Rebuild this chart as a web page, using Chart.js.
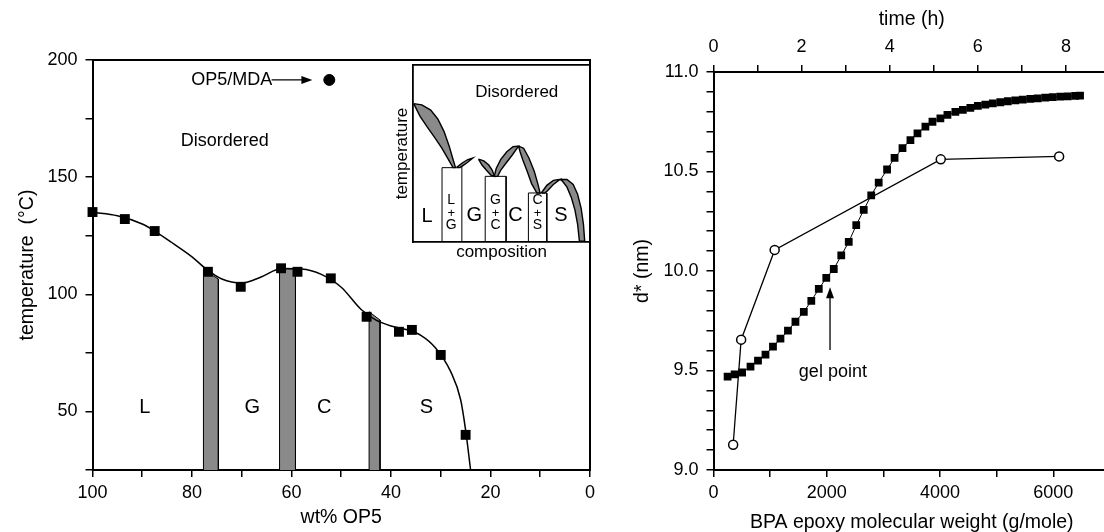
<!DOCTYPE html>
<html>
<head>
<meta charset="utf-8">
<script src="https://cdn.jsdelivr.net/npm/chart.js@4.4.1/dist/chart.umd.min.js"></script>
<style>
  html, body { margin: 0; padding: 0; background: #fff; overflow: hidden; }
  #wrap { position: relative; width: 1104px; height: 532px; overflow: hidden; }
  canvas { position: absolute; }
</style>
</head>
<body>
<div id="wrap">
  <canvas id="phase" width="600" height="532" style="left:0;top:0"></canvas>
  <canvas id="inset" width="205" height="200" style="left:390px;top:62px"></canvas>
  <canvas id="dspace" width="520" height="532" style="left:600px;top:0"></canvas>
</div>
<script>
// ---- left panel: order-disorder temperature vs OP5 content ----
const wtOP5 = [100, 93.5, 87.5, 76.8, 70.2, 62.1, 58.8, 52.1, 44.9, 38.4, 35.8, 30, 25];
const tODT  = [135.1, 132.1, 127, 109.6, 103.2, 111.1, 109.6, 106.8, 90.4, 84, 84.8, 74.1, 40];
// guide line through the points
const guideWt = [100, 95, 90, 87.5, 84, 80, 77, 74, 70, 66, 62, 58, 54, 50, 46, 43, 40, 37, 34, 31, 28, 26, 25, 24];
const guideT  = [135, 133.5, 130, 127, 122, 116, 110.5, 106.5, 104.8, 107.5, 111, 110.8, 108.5, 103, 93.5, 89, 86.5, 85, 82.5, 77, 67, 55, 42, 25];
// two-phase bands (left edge, right edge) and their top temperatures
const bandWt  = [[77.7, 74.7], [62.4, 59.2], [44.4, 42.2]];
const bandTop = [[110.5, 106.5], [111, 110.8], [92.5, 89]];
const mdaWt = [52.4];
const mdaT  = [191.5];

// ---- inset schematic (composition 0-100, temperature 0-100) ----
const lensA = [[0.4,78.2],[5,77.5],[10,74.5],[14,69.5],[17.5,62.5],[20.5,54],[22.5,47],[24,42],[22.6,42],[19.8,47],[16.3,53],[12.3,59],[8,65],[4,71],[0.4,78.2]];
const lensB = [[24.5,42],[28,44.8],[31,46.6],[33.8,47.5],[30.5,44.8],[28,43],[26.5,42],[24.5,42]];
const lensC = [[37,46.8],[40,45.8],[42.8,43.5],[44.8,40.5],[46,37.1],[44,37.8],[41.5,40.5],[39,43.5],[37,46.8]];
const lensD = [[45.9,37.1],[47,41.5],[49.5,46.5],[53,51],[56.5,53.8],[59.6,54.2],[56,49],[52.5,44.5],[49.5,40.5],[47.8,37.1],[45.9,37.1]];
const lensE = [[59.6,54.2],[62.5,53],[65.5,47.5],[68.5,40],[70.5,33],[71.8,27.7],[70,27.7],[67,33],[64.5,40],[62,46.5],[60.5,51],[59.6,54.2]];
const lensF = [[72.5,27.7],[75.6,32],[79.3,34.8],[83.1,35.4],[79.3,32.5],[76,29],[74.5,27.7],[72.5,27.7]];
const lensG = [[83.1,35.4],[87,35.3],[90.5,32.5],[93,27],[95,19],[96.3,10],[97,0.5],[94,0.5],[93,10],[91.5,18],[89.5,25],[87,31],[84.5,34.3],[83.1,35.4]];
const columns = [
  [[16.4,0],[16.4,42],[24,42]],
  [[27.6,0],[27.6,44]],
  [[40.8,0],[40.8,37.1],[52.6,37.1],[52.6,0]],
  [[65.2,0],[65.2,27.7],[75.6,27.7],[75.6,0]]
];

// ---- right panel ----
const bpaMW   = [347, 488, 1080, 4012, 6102];
const dBPA    = [9.127, 9.655, 10.106, 10.561, 10.576];
const timeH   = [0.32,0.48,0.65,0.84,1.01,1.18,1.35,1.52,1.69,1.86,2.05,2.22,2.39,2.56,2.73,2.90,3.07,3.24,3.41,3.58,3.75,3.94,4.11,4.29,4.47,4.63,4.81,4.97,5.15,5.31,5.49,5.66,5.83,6.00,6.17,6.34,6.51,6.68,6.85,7.02,7.19,7.36,7.53,7.70,7.87,8.04,8.21,8.32];
const dCure   = [9.469,9.481,9.49,9.52,9.55,9.58,9.62,9.66,9.70,9.745,9.795,9.85,9.91,9.965,10.01,10.078,10.146,10.23,10.307,10.38,10.444,10.51,10.568,10.617,10.658,10.692,10.725,10.75,10.767,10.784,10.80,10.81,10.82,10.83,10.836,10.842,10.848,10.853,10.857,10.861,10.865,10.868,10.871,10.874,10.876,10.878,10.880,10.881];

const FONT = '"Liberation Sans", Arial, Helvetica, sans-serif';
Chart.defaults.font.family = FONT;
Chart.defaults.color = '#000';
Chart.defaults.animation = false;
Chart.defaults.events = [];
Chart.defaults.plugins.legend.display = false;
Chart.defaults.plugins.tooltip.enabled = false;

const GREY = '#8a8a8a';
const TICK = 18;
const xy = (xs, ys) => xs.map((x, i) => ({ x, y: ys[i] }));
const pts = arr => arr.map(p => ({ x: p[0], y: p[1] }));

const tickGrid = { display: true, drawOnChartArea: false, drawTicks: true, tickLength: 7, color: '#000', lineWidth: 1.5 };
const frame = { display: true, color: '#000', width: 2 };

function edge(position, min, max, width) {
  return {
    type: 'linear', position, min, max,
    ticks: { display: false }, grid: { display: false },
    border: { display: true, color: '#000', width: width || 2 },
    afterFit: s => { if (s.isHorizontal()) s.height = 0; else s.width = 0; }
  };
}

// text labels and arrows placed in data units
const notes = {
  id: 'notes',
  afterDatasetsDraw(chart, args, opts) {
    const ctx = chart.ctx;
    const ys = chart.scales.y;
    ctx.save();
    ctx.fillStyle = '#000';
    ctx.strokeStyle = '#000';
    (opts.texts || []).forEach(t => {
      const xs = chart.scales[t.axis || 'x'];
      ctx.font = t.size + 'px ' + FONT;
      ctx.textAlign = 'center';
      ctx.textBaseline = 'middle';
      ctx.fillText(t.text, xs.getPixelForValue(t.x), ys.getPixelForValue(t.y));
    });
    (opts.arrows || []).forEach(a => {
      const xs = chart.scales[a.axis || 'x'];
      const x0 = xs.getPixelForValue(a.from[0]), y0 = ys.getPixelForValue(a.from[1]);
      const x1 = xs.getPixelForValue(a.to[0]), y1 = ys.getPixelForValue(a.to[1]);
      const c = Math.cos(Math.atan2(y1 - y0, x1 - x0)), s = Math.sin(Math.atan2(y1 - y0, x1 - x0));
      ctx.lineWidth = 1.3;
      ctx.beginPath();
      ctx.moveTo(x0, y0);
      ctx.lineTo(x1 - 6 * c, y1 - 6 * s);
      ctx.stroke();
      ctx.beginPath();
      ctx.moveTo(x1, y1);
      ctx.lineTo(x1 - 11 * c + 4 * s, y1 - 11 * s - 4 * c);
      ctx.lineTo(x1 - 11 * c - 4 * s, y1 - 11 * s + 4 * c);
      ctx.closePath();
      ctx.fill();
    });
    ctx.restore();
  }
};

// ---------------- left: phase diagram ----------------
const bands = bandWt.map((w, i) => ({
  data: [{ x: w[0], y: 25 }, { x: w[0], y: bandTop[i][0] }, { x: w[1], y: bandTop[i][1] }, { x: w[1], y: 25 }],
  showLine: true, fill: 'shape', backgroundColor: GREY, borderColor: '#000', borderWidth: 1,
  pointRadius: 0, tension: 0
}));

new Chart(document.getElementById('phase'), {
  type: 'scatter',
  data: {
    datasets: [
      { data: xy(mdaWt, mdaT), pointStyle: 'circle', pointRadius: 5.5, backgroundColor: '#000', borderColor: '#000', clip: false },
      { data: xy(wtOP5, tODT), pointStyle: 'rect', pointRadius: 7, backgroundColor: '#000', borderColor: '#000', borderWidth: 0, clip: false },
      { data: xy(guideWt, guideT), showLine: true, borderColor: '#000', borderWidth: 1.5, pointRadius: 0,
        tension: 0.4, cubicInterpolationMode: 'monotone' },
      ...bands
    ]
  },
  options: {
    responsive: false,
    layout: { padding: { top: 60, right: 9, left: 0, bottom: 0 } },
    scales: {
      x: {
        type: 'linear', min: 0, max: 100, reverse: true,
        ticks: { stepSize: 10, autoSkip: false, maxRotation: 0, padding: 5, font: { size: TICK },
          callback: v => (v % 20 === 0 ? v : '') },
        grid: tickGrid, border: frame,
        title: { display: true, text: 'wt% OP5', font: { size: 19.5 }, padding: { top: 0, bottom: 3 } },
        afterFit: s => { s.height = 62; }
      },
      y: {
        type: 'linear', min: 25, max: 200,
        ticks: { stepSize: 25, autoSkip: false, padding: 8, font: { size: TICK },
          callback: v => (v % 50 === 0 ? v : '') },
        grid: tickGrid, border: frame,
        title: { display: true, text: 'temperature  (°C)', font: { size: 19.5 }, padding: { top: 16, bottom: 0 } },
        afterFit: s => { s.width = 92.5; }
      },
      x2: Object.assign(edge('top', 0, 100), { reverse: true }),
      y2: edge('right', 25, 200)
    },
    plugins: {
      notes: {
        texts: [
          { text: 'Disordered', x: 73.4, y: 165.4, size: 18 },
          { text: 'OP5/MDA', x: 72, y: 191.5, size: 18 },
          { text: 'L', x: 89.5, y: 51.5, size: 20 },
          { text: 'G', x: 67.9, y: 51.5, size: 20 },
          { text: 'C', x: 53.4, y: 51.5, size: 20 },
          { text: 'S', x: 32.9, y: 51.5, size: 20 }
        ],
        arrows: [{ from: [64, 191.5], to: [55.8, 191.5] }]
      }
    }
  },
  plugins: [notes]
});

// ---------------- inset schematic ----------------
const lensSet = [lensA, lensB, lensC, lensD, lensE, lensF, lensG].map(l => ({
  data: pts(l), showLine: true, fill: 'shape', backgroundColor: GREY, borderColor: '#000',
  borderWidth: 1.4, pointRadius: 0, tension: 0
}));
const colSet = columns.map(c => ({
  data: pts(c), showLine: true, fill: false, borderColor: '#000', borderWidth: 1, pointRadius: 0, tension: 0
}));

new Chart(document.getElementById('inset'), {
  type: 'scatter',
  data: { datasets: [...lensSet, ...colSet] },
  options: {
    responsive: false,
    layout: { padding: { top: 3, right: 5, left: 0, bottom: 0 } },
    scales: {
      x: {
        type: 'linear', min: 0, max: 100,
        ticks: { display: false }, grid: { display: false },
        border: { display: true, color: '#000', width: 1.8 },
        title: { display: true, text: 'composition', font: { size: 17 }, padding: { top: 0, bottom: -1 } },
        afterFit: s => { s.height = 20; }
      },
      y: {
        type: 'linear', min: 0, max: 100,
        ticks: { display: false }, grid: { display: false },
        border: { display: true, color: '#000', width: 1.8 },
        title: { display: true, text: 'temperature', font: { size: 17 }, padding: { top: 2, bottom: 0 } },
        afterFit: s => { s.width = 23; }
      },
      x2: edge('top', 0, 100, 1.8),
      y2: edge('right', 0, 100, 1.8)
    },
    plugins: {
      notes: {
        texts: [
          { text: 'Disordered', x: 58.6, y: 84.4, size: 17 },
          { text: 'L', x: 7.9, y: 14.5, size: 20 },
          { text: 'L', x: 21.6, y: 23.5, size: 14 },
          { text: '+', x: 21.6, y: 16.3, size: 13 },
          { text: 'G', x: 21.6, y: 9.3, size: 14 },
          { text: 'G', x: 34.6, y: 15, size: 20 },
          { text: 'G', x: 46.6, y: 23.5, size: 14 },
          { text: '+', x: 46.6, y: 16.3, size: 13 },
          { text: 'C', x: 46.6, y: 9.3, size: 14 },
          { text: 'C', x: 57.9, y: 15, size: 20 },
          { text: 'C', x: 70.3, y: 23.5, size: 14 },
          { text: '+', x: 70.3, y: 16.3, size: 13 },
          { text: 'S', x: 70.3, y: 9.3, size: 14 },
          { text: 'S', x: 83.5, y: 15, size: 20 }
        ]
      }
    }
  },
  plugins: [notes]
});

// ---------------- right: d-spacing ----------------
new Chart(document.getElementById('dspace'), {
  type: 'scatter',
  data: {
    datasets: [
      { data: xy(bpaMW, dBPA), xAxisID: 'x', showLine: true, borderColor: '#000', borderWidth: 1.3,
        pointStyle: 'circle', pointRadius: 4.5, backgroundColor: '#fff', pointBorderWidth: 1.5, tension: 0 },
      { data: xy(timeH, dCure), xAxisID: 'x2', showLine: true, borderColor: '#000', borderWidth: 1,
        pointStyle: 'rect', pointRadius: 5.5, backgroundColor: '#000', pointBorderWidth: 0, tension: 0 }
    ]
  },
  options: {
    responsive: false,
    layout: { padding: { top: 0, right: 10, left: 0, bottom: 0 } },
    scales: {
      x: {
        type: 'linear', position: 'bottom', min: 0, max: 7000,
        ticks: { stepSize: 1000, autoSkip: false, maxRotation: 0, padding: 5, font: { size: TICK },
          callback: v => (v % 2000 === 0 ? v : '') },
        grid: tickGrid, border: frame,
        title: { display: true, text: 'BPA epoxy molecular weight (g/mole)', font: { size: 19.5 }, padding: { top: 0, bottom: -2 } },
        afterFit: s => { s.height = 62; }
      },
      x2: {
        type: 'linear', position: 'top', min: 0, max: 9,
        ticks: { stepSize: 1, autoSkip: false, maxRotation: 0, padding: 7, font: { size: TICK },
          callback: v => (v % 2 === 0 ? v : '') },
        grid: tickGrid, border: frame,
        title: { display: true, text: 'time (h)', font: { size: 19.5 }, padding: { top: 8, bottom: 0 } },
        afterFit: s => { s.height = 72; }
      },
      y: {
        type: 'linear', min: 9, max: 11,
        ticks: { stepSize: 0.1, autoSkip: false, padding: 8, font: { size: TICK },
          callback: v => (Math.abs(v * 2 - Math.round(v * 2)) < 1e-6 ? v.toFixed(1) : '') },
        grid: tickGrid, border: frame,
        title: { display: true, text: 'd* (nm)', font: { size: 19.5 }, padding: { top: 31, bottom: 0 } },
        afterFit: s => { s.width = 113.5; }
      },
      y2: edge('right', 9, 11)
    },
    plugins: {
      notes: {
        texts: [{ text: 'gel point', x: 2.71, y: 9.49, size: 18, axis: 'x2' }],
        arrows: [{ from: [2.645, 9.603], to: [2.645, 9.918], axis: 'x2' }]
      }
    }
  },
  plugins: [notes]
});
</script>
</body>
</html>
